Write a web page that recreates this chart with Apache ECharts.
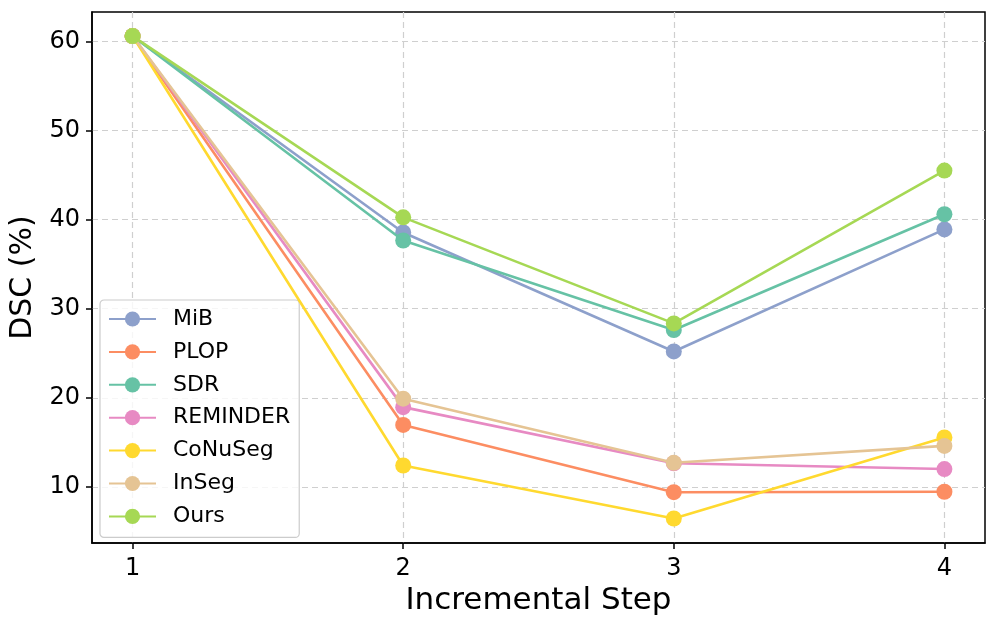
<!DOCTYPE html>
<html>
<head>
<meta charset="utf-8">
<script src="https://cdn.jsdelivr.net/npm/echarts@6/dist/echarts.min.js"></script>
<style>html,body{margin:0;padding:0;background:#fff}#c{width:997px;height:629px}</style>
</head>
<body>
<div id="c"></div>
<script>
const steps = [1, 2, 3, 4];
const seriesNames = ['MiB', 'PLOP', 'SDR', 'REMINDER', 'CoNuSeg', 'InSeg', 'Ours'];
const MiB = [60.6, 38.55, 25.2, 38.9];
const PLOP = [60.6, 16.95, 9.4, 9.45];
const SDR = [60.6, 37.65, 27.6, 40.6];
const REMINDER = [60.6, 18.95, 12.65, 12.0];
const CoNuSeg = [60.6, 12.4, 6.45, 15.55];
const InSeg = [60.6, 19.9, 12.7, 14.6];
const Ours = [60.6, 40.25, 28.35, 45.5];
const yTicks = [10, 20, 30, 40, 50, 60];
const colors = ['#8da0cb', '#fc8d62', '#66c2a5', '#e78ac3', '#ffd92f', '#e5c494', '#a6d854'];
const values = [MiB, PLOP, SDR, REMINDER, CoNuSeg, InSeg, Ours];

const font = 'DejaVu Sans';
const chart = echarts.init(document.getElementById('c'), null, {renderer: 'canvas'});
chart.setOption({
  animation: false,
  backgroundColor: '#fff',
  grid: {left: 92, right: 12, top: 12, bottom: 86, show: true, borderColor: '#000', borderWidth: 1.5, backgroundColor: 'transparent'},
  xAxis: {
    type: 'value', min: 0.85, max: 4.15,
    name: 'Incremental Step', nameLocation: 'middle', nameGap: 40,
    nameTextStyle: {fontFamily: font, fontSize: 31, color: '#000'},
    axisLine: {show: true, lineStyle: {color: '#000', width: 1.5}},
    axisTick: {show: true, customValues: steps, length: 6, inside: false, lineStyle: {color: '#000', width: 1.5}},
    axisLabel: {customValues: steps, fontFamily: font, fontSize: 24, color: '#000', margin: 14},
    splitLine: {show: true, lineStyle: {color: '#cfcfcf', type: [6, 4], width: 1.2}}
  },
  yAxis: {
    type: 'value', min: 3.7, max: 63.3,
    name: 'DSC (%)', nameLocation: 'middle', nameGap: 46,
    nameTextStyle: {fontFamily: font, fontSize: 30, color: '#000'},
    axisLine: {show: true, lineStyle: {color: '#000', width: 1.5}},
    axisTick: {show: true, customValues: yTicks, length: 6, inside: false, lineStyle: {color: '#000', width: 1.5}},
    axisLabel: {customValues: yTicks, fontFamily: font, fontSize: 24, color: '#000', margin: 12},
    splitLine: {show: true, lineStyle: {color: '#cfcfcf', type: [6, 4], width: 1.2}}
  },
  legend: {
    orient: 'vertical', left: 100, top: 300,
    padding: [8, 9, 10, 8],
    itemWidth: 47, itemHeight: 19, itemGap: 10.9,
    backgroundColor: 'rgba(255,255,255,0.8)', borderColor: '#cccccc', borderWidth: 1.2, borderRadius: 4,
    textStyle: {fontFamily: font, fontSize: 22, color: '#000', padding: [0, 0, 0, 12]},
    data: seriesNames
  },
  series: seriesNames.map((n, i) => ({
    name: n, type: 'line',
    data: steps.map((s, j) => [s, values[i][j]]),
    symbol: 'circle', symbolSize: 16,
    lineStyle: {color: colors[i], width: 2.6},
    itemStyle: {color: colors[i]},
    clip: false, z: 2 + i
  }))
});
</script>
</body>
</html>
